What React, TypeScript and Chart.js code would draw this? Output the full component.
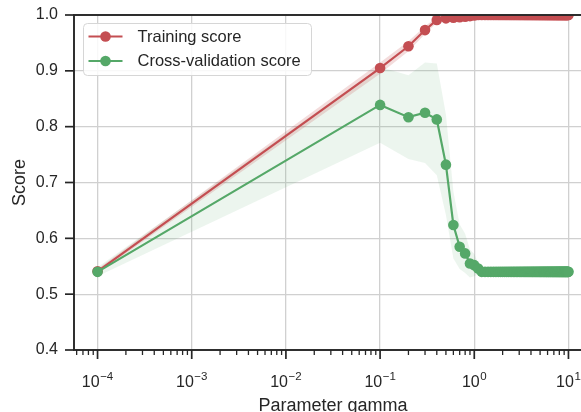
import React, { useEffect, useRef } from 'react';
import { Chart, registerables } from 'chart.js';

Chart.register(...registerables);

// ---- data ----
const gammaValues = [
  0.0001,
  0.1, 0.2, 0.3, 0.4, 0.5, 0.6, 0.7, 0.8, 0.9, 1.0,
  1.1, 1.2, 1.3, 1.4, 1.5, 1.6, 1.7, 1.8, 1.9, 2.0,
  2.1, 2.2, 2.3, 2.4, 2.5, 2.6, 2.7, 2.8, 2.9, 3.0,
  3.1, 3.2, 3.3, 3.4, 3.5, 3.6, 3.7, 3.8, 3.9, 4.0,
  4.1, 4.2, 4.3, 4.4, 4.5, 4.6, 4.7, 4.8, 4.9, 5.0,
  5.1, 5.2, 5.3, 5.4, 5.5, 5.6, 5.7, 5.8, 5.9, 6.0,
  6.1, 6.2, 6.3, 6.4, 6.5, 6.6, 6.7, 6.8, 6.9, 7.0,
  7.1, 7.2, 7.3, 7.4, 7.5, 7.6, 7.7, 7.8, 7.9, 8.0,
  8.1, 8.2, 8.3, 8.4, 8.5, 8.6, 8.7, 8.8, 8.9, 9.0,
  9.1, 9.2, 9.3, 9.4, 9.5, 9.6, 9.7, 9.8, 9.9, 10.0,
];

const trainMean = [
  0.541,
  0.905, 0.944, 0.973, 0.991, 0.994, 0.995, 0.996, 0.997, 0.998, 0.999,
  1.0, 1.0, 1.0, 1.0, 1.0, 1.0, 1.0, 1.0, 1.0, 1.0,
  1.0, 1.0, 1.0, 1.0, 1.0, 1.0, 1.0, 1.0, 1.0, 1.0,
  1.0, 1.0, 1.0, 1.0, 1.0, 1.0, 1.0, 1.0, 1.0, 1.0,
  1.0, 1.0, 1.0, 1.0, 1.0, 1.0, 1.0, 1.0, 1.0, 1.0,
  1.0, 1.0, 1.0, 1.0, 1.0, 1.0, 1.0, 1.0, 1.0, 1.0,
  1.0, 1.0, 1.0, 1.0, 1.0, 1.0, 1.0, 1.0, 1.0, 1.0,
  1.0, 1.0, 1.0, 1.0, 1.0, 1.0, 1.0, 1.0, 1.0, 1.0,
  1.0, 1.0, 1.0, 1.0, 1.0, 1.0, 1.0, 1.0, 1.0, 1.0,
  1.0, 1.0, 1.0, 1.0, 1.0, 1.0, 1.0, 1.0, 1.0, 1.0,
];

const trainStd = [
  0.004,
  0.010, 0.009, 0.007, 0.005, 0.004, 0.003, 0.003, 0.002, 0.002, 0.001,
  0, 0, 0, 0, 0, 0, 0, 0, 0, 0,
  0, 0, 0, 0, 0, 0, 0, 0, 0, 0,
  0, 0, 0, 0, 0, 0, 0, 0, 0, 0,
  0, 0, 0, 0, 0, 0, 0, 0, 0, 0,
  0, 0, 0, 0, 0, 0, 0, 0, 0, 0,
  0, 0, 0, 0, 0, 0, 0, 0, 0, 0,
  0, 0, 0, 0, 0, 0, 0, 0, 0, 0,
  0, 0, 0, 0, 0, 0, 0, 0, 0, 0,
  0, 0, 0, 0, 0, 0, 0, 0, 0, 0,
];

const cvMean = [
  0.540,
  0.839, 0.817, 0.825, 0.813, 0.732, 0.624, 0.585, 0.573, 0.555, 0.552,
  0.546, 0.54, 0.54, 0.54, 0.54, 0.54, 0.54, 0.54, 0.54, 0.54,
  0.54, 0.54, 0.54, 0.54, 0.54, 0.54, 0.54, 0.54, 0.54, 0.54,
  0.54, 0.54, 0.54, 0.54, 0.54, 0.54, 0.54, 0.54, 0.54, 0.54,
  0.54, 0.54, 0.54, 0.54, 0.54, 0.54, 0.54, 0.54, 0.54, 0.54,
  0.54, 0.54, 0.54, 0.54, 0.54, 0.54, 0.54, 0.54, 0.54, 0.54,
  0.54, 0.54, 0.54, 0.54, 0.54, 0.54, 0.54, 0.54, 0.54, 0.54,
  0.54, 0.54, 0.54, 0.54, 0.54, 0.54, 0.54, 0.54, 0.54, 0.54,
  0.54, 0.54, 0.54, 0.54, 0.54, 0.54, 0.54, 0.54, 0.54, 0.54,
  0.54, 0.54, 0.54, 0.54, 0.54, 0.54, 0.54, 0.54, 0.54, 0.54,
];

const cvStd = [
  0.008,
  0.068, 0.075, 0.090, 0.100, 0.090, 0.060, 0.040, 0.035, 0.025, 0.020,
  0.010, 0, 0, 0, 0, 0, 0, 0, 0, 0,
  0, 0, 0, 0, 0, 0, 0, 0, 0, 0,
  0, 0, 0, 0, 0, 0, 0, 0, 0, 0,
  0, 0, 0, 0, 0, 0, 0, 0, 0, 0,
  0, 0, 0, 0, 0, 0, 0, 0, 0, 0,
  0, 0, 0, 0, 0, 0, 0, 0, 0, 0,
  0, 0, 0, 0, 0, 0, 0, 0, 0, 0,
  0, 0, 0, 0, 0, 0, 0, 0, 0, 0,
  0, 0, 0, 0, 0, 0, 0, 0, 0, 0,
];

const yTickValues = [0.4, 0.5, 0.6, 0.7, 0.8, 0.9, 1.0];
const xDecades = [-5, -4, -3, -2, -1, 0, 1];
const xMantissas = [1, 2, 3, 4, 5, 6, 7, 8, 9];

const trainLabel = 'Training score';
const cvLabel = 'Cross-validation score';
const xLabel = 'Parameter gamma';
const yLabel = 'Score';

// ---- styles ----
const RED = '#C44E52';
const GREEN = '#55A868';
const TEXT = '#262626';
const GRID = '#d0d0d0';
const FONT = "'Liberation Sans', Arial, Helvetica, sans-serif";
const X_MIN = Math.pow(10, -4.25);
const X_MAX = Math.pow(10, 1.25);
const POINT_R = 5.3;

const isDecade = (v: number) => {
  const l = Math.log10(v);
  return Math.abs(l - Math.round(l)) < 1e-9;
};

const xTickValues: number[] = [];
xDecades.forEach((d) => {
  xMantissas.forEach((m) => {
    const v = m * Math.pow(10, d);
    if (v >= X_MIN && v <= X_MAX) xTickValues.push(v);
  });
});

const framePlugin = {
  id: 'mplFrame',
  afterDatasetsDraw(chart: any) {
    const { ctx, chartArea: a, scales } = chart;
    const xs = scales.x;
    const ys = scales.y;
    ctx.save();
    ctx.strokeStyle = TEXT;
    ctx.lineCap = 'butt';
    xs.ticks.forEach((t: any) => {
      const px = xs.getPixelForValue(t.value);
      const major = isDecade(t.value);
      ctx.lineWidth = major ? 1.7 : 1.3;
      ctx.beginPath();
      ctx.moveTo(px, a.bottom);
      ctx.lineTo(px, a.bottom + (major ? 9 : 5));
      ctx.stroke();
      if (major) {
        const exp = String(Math.round(Math.log10(t.value))).replace('-', '\u2212');
        ctx.font = `16px ${FONT}`;
        const w1 = ctx.measureText('10').width;
        ctx.font = `11.5px ${FONT}`;
        const w2 = ctx.measureText(exp).width;
        const start = px - (w1 + w2 + 0.5) / 2;
        ctx.fillStyle = TEXT;
        ctx.textAlign = 'left';
        ctx.textBaseline = 'alphabetic';
        ctx.font = `16px ${FONT}`;
        ctx.fillText('10', start, a.bottom + 37);
        ctx.font = `11.5px ${FONT}`;
        ctx.fillText(exp, start + w1 + 0.5, a.bottom + 29.5);
      }
    });
    ys.ticks.forEach((t: any) => {
      const py = ys.getPixelForValue(t.value);
      ctx.lineWidth = 1.7;
      ctx.beginPath();
      ctx.moveTo(a.left - 9, py);
      ctx.lineTo(a.left, py);
      ctx.stroke();
    });
    ctx.lineWidth = 1.9;
    ctx.strokeRect(a.left, a.top, a.right - a.left, a.bottom - a.top);
    ctx.restore();
  },
};

const legendPlugin = {
  id: 'mplLegend',
  afterDraw(chart: any) {
    const { ctx, chartArea: a } = chart;
    const entries = chart.data.datasets
      .filter((d: any) => d.legendRank !== undefined)
      .sort((p: any, q: any) => p.legendRank - q.legendRank);
    const x0 = a.left + 9.5;
    const y0 = a.top + 8.5;
    const w = 228;
    const h = 52;
    const r = 4;
    ctx.save();
    ctx.beginPath();
    ctx.moveTo(x0 + r, y0);
    ctx.lineTo(x0 + w - r, y0);
    ctx.arcTo(x0 + w, y0, x0 + w, y0 + r, r);
    ctx.lineTo(x0 + w, y0 + h - r);
    ctx.arcTo(x0 + w, y0 + h, x0 + w - r, y0 + h, r);
    ctx.lineTo(x0 + r, y0 + h);
    ctx.arcTo(x0, y0 + h, x0, y0 + h - r, r);
    ctx.lineTo(x0, y0 + r);
    ctx.arcTo(x0, y0, x0 + r, y0, r);
    ctx.closePath();
    ctx.fillStyle = 'rgba(255,255,255,0.85)';
    ctx.fill();
    ctx.strokeStyle = '#d6d6d6';
    ctx.lineWidth = 1;
    ctx.stroke();
    entries.forEach((d: any, i: number) => {
      const cy = y0 + 13 + i * 24.5;
      ctx.strokeStyle = d.borderColor;
      ctx.lineWidth = 2.2;
      ctx.beginPath();
      ctx.moveTo(x0 + 5, cy);
      ctx.lineTo(x0 + 39, cy);
      ctx.stroke();
      ctx.fillStyle = d.borderColor;
      ctx.beginPath();
      ctx.arc(x0 + 22, cy, POINT_R, 0, Math.PI * 2);
      ctx.fill();
      ctx.fillStyle = TEXT;
      ctx.font = `16.5px ${FONT}`;
      ctx.textBaseline = 'middle';
      ctx.textAlign = 'left';
      ctx.fillText(d.label, x0 + 54, cy + 0.5);
    });
    ctx.restore();
  },
};

export default function App() {
  const ref = useRef<HTMLCanvasElement | null>(null);

  useEffect(() => {
    if (!ref.current) return;
    const pts = (ys: number[]) => gammaValues.map((g, i) => ({ x: g, y: ys[i] }));
    const lower = (m: number[], s: number[]) => m.map((v, i) => v - s[i]);
    const upper = (m: number[], s: number[]) => m.map((v, i) => v + s[i]);

    const band = { pointRadius: 0, borderWidth: 0, borderColor: 'rgba(0,0,0,0)', clip: 0 };

    const chart = new Chart(ref.current, {
      type: 'line',
      data: {
        datasets: [
          {
            label: cvLabel, legendRank: 1,
            data: pts(cvMean), borderColor: GREEN, backgroundColor: GREEN,
            pointBackgroundColor: GREEN, pointBorderWidth: 0, pointRadius: POINT_R,
            borderWidth: 2.2, fill: false, order: 0, clip: 0,
          } as any,
          {
            label: trainLabel, legendRank: 0,
            data: pts(trainMean), borderColor: RED, backgroundColor: RED,
            pointBackgroundColor: RED, pointBorderWidth: 0, pointRadius: POINT_R,
            borderWidth: 2.2, fill: false, order: 1, clip: 0,
          } as any,
          { label: 'train-lower', data: pts(lower(trainMean, trainStd)), fill: false, order: 2, ...band } as any,
          {
            label: 'train-upper', data: pts(upper(trainMean, trainStd)), fill: 2,
            backgroundColor: 'rgba(196,78,82,0.2)', order: 2, ...band,
          } as any,
          { label: 'cv-lower', data: pts(lower(cvMean, cvStd)), fill: false, order: 3, ...band } as any,
          {
            label: 'cv-upper', data: pts(upper(cvMean, cvStd)), fill: 4,
            backgroundColor: 'rgba(85,168,104,0.11)', order: 3, ...band,
          } as any,
        ],
      },
      options: {
        responsive: false,
        animation: false,
        devicePixelRatio: 1,
        events: [],
        layout: { padding: { left: 0, top: 15, right: 8, bottom: 0 } },
        elements: { line: { tension: 0 } },
        plugins: {
          legend: { display: false },
          tooltip: { enabled: false },
          filler: { drawTime: 'beforeDatasetsDraw' },
        },
        scales: {
          x: {
            type: 'logarithmic',
            min: X_MIN,
            max: X_MAX,
            afterBuildTicks: (s: any) => {
              s.ticks = xTickValues.map((v) => ({ value: v }));
            },
            afterFit: (s: any) => {
              s.height = 80;
              s.paddingLeft = 0;
              s.paddingRight = 0;
            },
            ticks: { display: false, autoSkip: false, maxRotation: 0, minRotation: 0 },
            grid: {
              color: (c: any) => (c.tick && isDecade(c.tick.value) ? GRID : 'rgba(0,0,0,0)'),
              lineWidth: 1.3,
              drawTicks: false,
            },
            border: { display: false },
            title: {
              display: true,
              text: xLabel,
              color: TEXT,
              font: { family: FONT, size: 18 },
              padding: { top: 0, bottom: 13 },
            },
          },
          y: {
            type: 'linear',
            min: 0.4,
            max: 1.0,
            afterBuildTicks: (s: any) => {
              s.ticks = yTickValues.map((v) => ({ value: v }));
            },
            afterFit: (s: any) => {
              s.width = 74;
              s.paddingTop = 0;
              s.paddingBottom = 0;
            },
            ticks: {
              padding: 16,
              color: TEXT,
              font: { family: FONT, size: 16 },
              callback: (v: any) => Number(v).toFixed(1),
            },
            grid: { color: GRID, lineWidth: 1.3, drawTicks: false },
            border: { display: false },
            title: {
              display: true,
              text: yLabel,
              color: TEXT,
              font: { family: FONT, size: 18 },
              padding: { top: 9, bottom: 0 },
            },
          },
        },
      } as any,
      plugins: [framePlugin, legendPlugin],
    });
    return () => chart.destroy();
  }, []);

  return (
    <div
      style={{
        position: 'fixed', left: 0, top: 0, width: 581, height: 412,
        overflow: 'hidden', background: '#ffffff',
      }}
    >
      <canvas ref={ref} width={600} height={430} style={{ display: 'block' }} />
    </div>
  );
}
